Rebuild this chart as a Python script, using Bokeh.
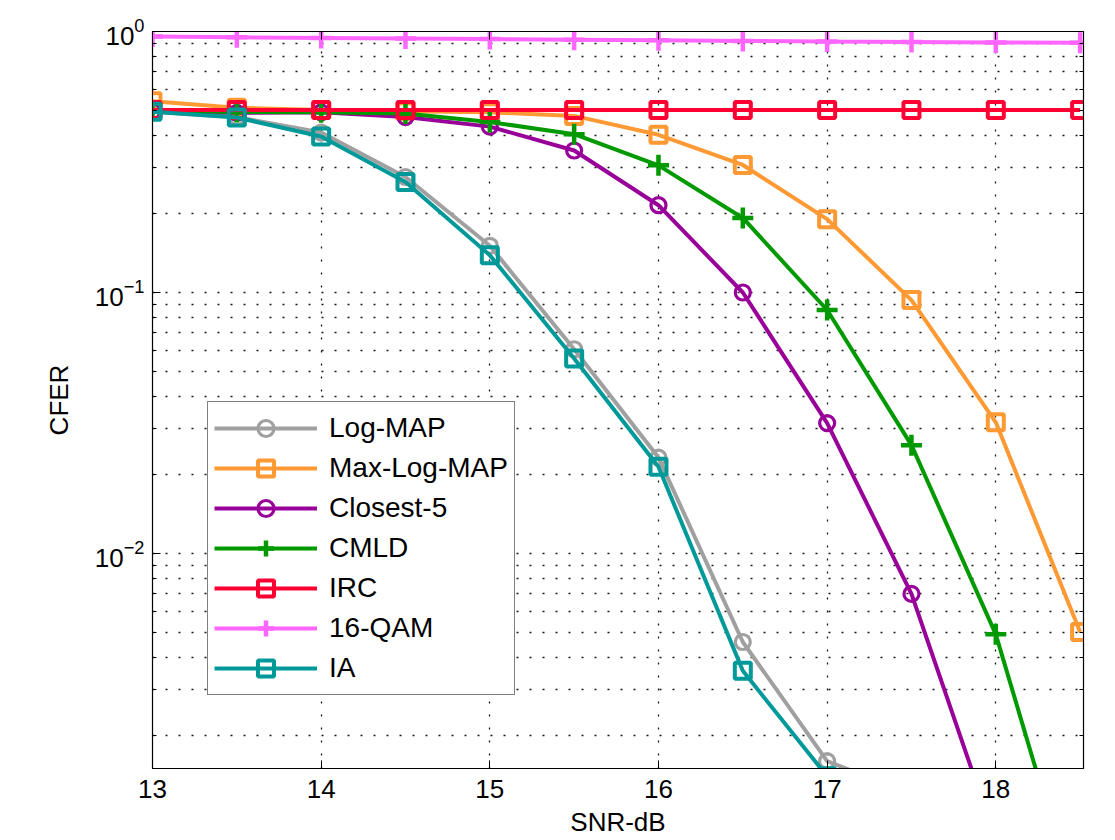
from bokeh.plotting import figure
from bokeh.models import (FixedTicker, LogAxis, LinearAxis, Legend, LegendItem, Range1d,
                          CustomLabelingPolicy)
from bokeh.embed import file_html
from bokeh.resources import INLINE

nan = float("nan")

snr = [13, 13.5, 14, 14.5, 15, 15.5, 16, 16.5, 17, 17.5, 18, 18.5]
log_map = [0.493, 0.470, 0.410, 0.277, 0.151, 0.0606, 0.0233, 0.00458, 0.0016, 0.0012, nan, nan]
max_log_map = [0.540, 0.510, 0.500, 0.495, 0.490, 0.475, 0.402, 0.308, 0.191, 0.0935, 0.0318, 0.0050]
closest_5 = [0.495, 0.488, 0.490, 0.470, 0.432, 0.350, 0.216, 0.100, 0.0316, 0.0070, 0.0008, nan]
cmld = [0.497, 0.492, 0.490, 0.485, 0.450, 0.404, 0.307, 0.193, 0.0857, 0.0260, 0.0049, 0.0004]
irc = [0.500, 0.500, 0.500, 0.500, 0.500, 0.500, 0.500, 0.500, 0.500, 0.500, 0.500, 0.500]
qam16 = [0.957, 0.950, 0.945, 0.940, 0.935, 0.930, 0.925, 0.920, 0.915, 0.912, 0.908, 0.905]
ia = [0.493, 0.468, 0.396, 0.265, 0.139, 0.0559, 0.0215, 0.00355, 0.0014, nan, nan, nan]

x_ticks = [13, 14, 15, 16, 17, 18]
y_ticks = [0.01, 0.1, 1.0]
y_minor = [0.002, 0.003, 0.004, 0.005, 0.006, 0.007, 0.008, 0.009,
           0.02, 0.03, 0.04, 0.05, 0.06, 0.07, 0.08, 0.09,
           0.2, 0.3, 0.4, 0.5, 0.6, 0.7, 0.8, 0.9]

series = [
    ("Log-MAP", log_map, "#a0a0a0", "circle"),
    ("Max-Log-MAP", max_log_map, "#ff9933", "square"),
    ("Closest-5", closest_5, "#990099", "circle"),
    ("CMLD", cmld, "#009900", "cross"),
    ("IRC", irc, "#ff0033", "square"),
    ("16-QAM", qam16, "#ff66ff", "cross"),
    ("IA", ia, "#009999", "square"),
]

FONT = "Liberation Sans"

p = figure(width=1107, height=839, x_range=Range1d(13, 18.52), y_range=Range1d(0.0015, 1.0),
           y_axis_type="log", output_backend="svg", toolbar_location=None,
           min_border_left=152, min_border_right=20, min_border_top=31, min_border_bottom=71)
p.background_fill_color = "white"
p.border_fill_color = "white"
p.outline_line_color = "black"
p.outline_line_width = 1.2

p.xaxis.ticker = FixedTicker(ticks=x_ticks, minor_ticks=[])
p.yaxis.ticker = FixedTicker(ticks=y_ticks, minor_ticks=y_minor)

for ax in (p.xaxis[0], p.yaxis[0]):
    ax.major_label_text_font = FONT
    ax.major_label_text_font_size = "26px"
    ax.major_label_text_color = "black"
    ax.axis_label_text_font = FONT
    ax.axis_label_text_font_size = "26px"
    ax.axis_label_text_font_style = "normal"
    ax.axis_label_text_color = "black"
    ax.axis_line_color = "black"
    ax.major_tick_in = 8
    ax.major_tick_out = 0
    ax.minor_tick_in = 4
    ax.minor_tick_out = 0
    ax.major_tick_line_color = "black"
    ax.minor_tick_line_color = "black"

p.xaxis.axis_label = "SNR-dB"
p.yaxis.axis_label = "CFER"
p.xaxis.major_label_standoff = 11
p.xaxis.axis_label_standoff = 6
p.yaxis.major_label_standoff = 8
p.yaxis.axis_label_standoff = 18

no_labels = CustomLabelingPolicy(code="""
const n = indices.size
for (let i = 0; i < n; i++) { indices.unset(i) }
return indices
""")

top = LinearAxis(ticker=FixedTicker(ticks=x_ticks, minor_ticks=[]),
                 major_label_policy=no_labels,
                 major_tick_in=8, major_tick_out=0, minor_tick_in=0, minor_tick_out=0,
                 major_label_standoff=0, axis_line_color="black")
right = LogAxis(ticker=FixedTicker(ticks=y_ticks, minor_ticks=y_minor),
                major_label_policy=no_labels,
                major_tick_in=8, major_tick_out=0, minor_tick_in=4, minor_tick_out=0,
                major_label_standoff=0, axis_line_color="black")
p.add_layout(top, "above")
p.add_layout(right, "right")

for g in (p.xgrid[0], p.ygrid[0]):
    g.grid_line_color = "black"
    g.grid_line_dash = "2 11"
    g.grid_line_width = 1.3
    g.grid_line_alpha = 0.9
p.ygrid.minor_grid_line_color = "black"
p.ygrid.minor_grid_line_dash = "2 11"
p.ygrid.minor_grid_line_width = 1.3
p.ygrid.minor_grid_line_alpha = 0.9

items = []
for name, ys, color, marker in series:
    r1 = p.line(snr, ys, line_color=color, line_width=4)
    if marker == "cross":
        r2 = p.scatter(snr, ys, marker="cross", size=21, line_color=color, line_width=4.5)
    elif marker == "square":
        r2 = p.scatter(snr, ys, marker="square", size=16, line_color=color, line_width=4,
                       fill_alpha=0)
    else:
        r2 = p.scatter(snr, ys, marker="circle", size=15, line_color=color, line_width=3.2,
                       fill_alpha=0)
    items.append(LegendItem(label=name, renderers=[r1, r2]))

legend = Legend(items=items, location=(55, 73))
legend.label_text_font = FONT
legend.label_text_font_size = "28px"
legend.label_text_color = "black"
legend.glyph_width = 103
legend.glyph_height = 40
legend.label_height = 40
legend.spacing = 0
legend.padding = 6
legend.margin = 0
legend.label_standoff = 12
legend.border_line_color = "black"
legend.border_line_width = 1.2
legend.background_fill_color = "white"
legend.background_fill_alpha = 1.0
p.add_layout(legend)

open("out.html", "w").write(file_html(p, INLINE))
